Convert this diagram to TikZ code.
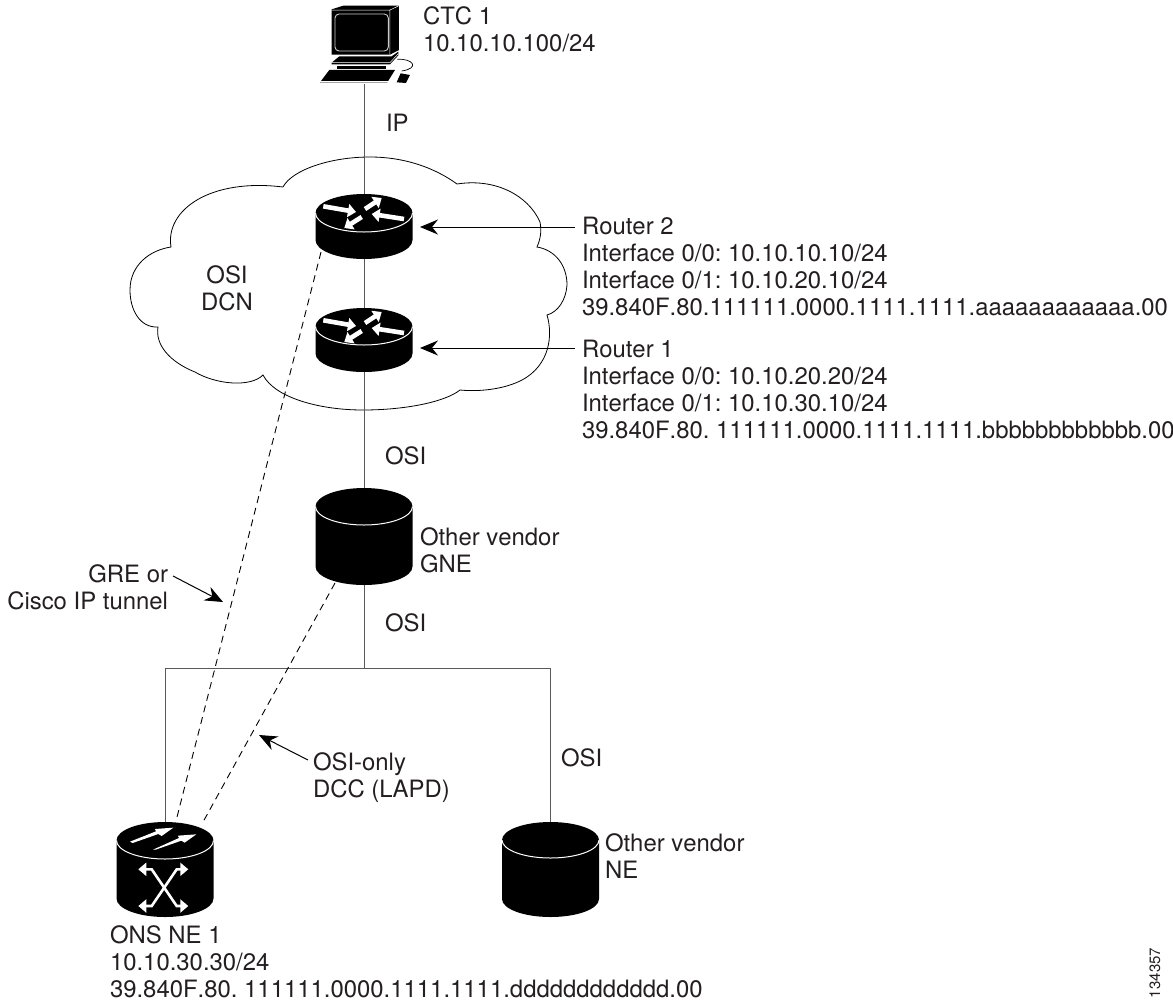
\documentclass[tikz,border=0pt]{standalone}
\usepackage{fontspec}
\setmainfont[Kerning=Off]{TeX Gyre Heros}
\frenchspacing
\usetikzlibrary{arrows.meta}
\definecolor{ink}{HTML}{231F20}
\tikzset{
  lbl/.style={inner sep=0pt,outer sep=0pt,text=ink,font=\frenchspacing\fontsize{23.9}{26.7}\selectfont},
  leftlbl/.style={lbl,anchor=base west,align=left},
  rightlbl/.style={lbl,anchor=base east,align=right},
  link/.style={draw=black!65,line width=1pt},
  tunnel/.style={draw=black,line width=.9pt,dash pattern=on 7pt off 5pt},
  pointer/.style={draw=black,line width=1pt,-{Stealth[length=18pt,width=15pt,inset=6pt]}},
  whitearrow/.style={draw=white,line width=4.6pt,-{Triangle[length=8pt,width=13pt]}},
  xarrow/.style={draw=white,line width=2.6pt,{Triangle[length=8pt,width=13pt]}-{Triangle[length=8pt,width=13pt]}},
  cloudline/.style={draw=black,line width=.8pt},
  devbox/.style={inner sep=0pt,outer sep=0pt,minimum width=97pt,rectangle}
}
% name, centre x, top, rim bottom, bottom
\newcommand\drum[5]{%
  \pgfmathsetmacro\ry{(#4-#3)/2}%
  \pgfmathsetmacro\tc{#3+\ry}%
  \pgfmathsetmacro\sd{#5-\ry}%
  \fill[black] (#2-48.5,\tc) arc[start angle=180,end angle=0,x radius=48.5pt,y radius=\ry pt]
     -- (#2+48.5,\sd) arc[start angle=0,end angle=-180,x radius=48.5pt,y radius=\ry pt] -- cycle;
  \draw[white,line width=1pt] (#2-48.5,\tc) arc[start angle=180,end angle=360,x radius=48.5pt,y radius=\ry pt];
  \pgfmathsetmacro\hh{#5-#3}%
  \node[devbox,minimum height=\hh pt] (#1) at (#2,{(#3+#5)/2}) {};
}
\newcommand\routerarrows[2]{%
  \draw[whitearrow] (#1-40.7,#2+12.3) -- (#1-8,#2+18);
  \draw[whitearrow] (#1+1,#2+15) -- (#1+17.7,#2+4);
  \draw[whitearrow] (#1+40,#2+25) -- (#1+7.7,#2+20);
  \draw[whitearrow] (#1-2.3,#2+23) -- (#1-19.7,#2+34);
}
\begin{document}
\begin{tikzpicture}[x=1pt,y=-1pt]
\path[use as bounding box] (0,0) rectangle (1173,1005);

% cloud
\draw[cloudline] (283,187)
  .. controls (292,170) and (330,157) .. (370,157)
  .. controls (405,157) and (435,168) .. (457,184)
  .. controls (495,178) and (528,195) .. (540,222)
  .. controls (542,232) and (540,240) .. (537,247)
  .. controls (555,250) and (567,265) .. (567,285)
  .. controls (566,300) and (558,312) .. (547,315)
  .. controls (553,335) and (550,365) .. (522,380)
  .. controls (505,389) and (480,392) .. (460,390)
  .. controls (445,402) and (405,410) .. (363,410)
  .. controls (320,410) and (275,398) .. (263,375)
  .. controls (250,388) and (215,384) .. (195,372)
  .. controls (170,362) and (155,345) .. (158,327)
  .. controls (140,328) and (130,310) .. (130,290)
  .. controls (130,265) and (150,250) .. (171,247)
  .. controls (165,210) and (210,178) .. (283,187);

% computer
\begin{scope}[shift={(280,0)},x=.3333pt,y=-.3333pt]
  \fill[black] (155,28) -- (190,17) -- (357,17) -- (357,150) -- (330,164) -- (155,164) -- cycle;
  \draw[white,line width=.5pt] (155,30) -- (330,30) -- (357,17) (330,30) -- (330,164);
  \draw[black!20,line width=.9pt,rounded corners=4pt] (165,42) rectangle (325,153);
  \fill[black] (155,188) -- (178,169) -- (335,169) -- (355,155) -- (355,166) -- (330,193) -- (155,193) -- cycle;
  \draw[white,line width=.5pt] (155,188) -- (330,188) -- (355,161);
  \fill[black] (172,197) rectangle (318,207);
  \fill[black] (120,247) -- (148,210) -- (345,210) -- (322,247) -- cycle;
  \draw[white,line width=.4pt] (120,243) -- (325,243);
  \fill[black] (350,247) -- (362,220) -- (390,225) -- (378,249) -- cycle;
  \draw[black,line width=.7pt] (352,178) .. controls (400,175) and (420,205) .. (365,213);
\end{scope}
\node[inner sep=0pt,outer sep=0pt,minimum width=97pt,minimum height=84pt] (ctc) at (364,42) {};

% devices
\drum{rtwo}{364}{194}{232}{259}
\routerarrows{364}{194}
\drum{rone}{364}{308}{345}{372}
\routerarrows{364}{308}
\drum{gne}{364}{488}{525}{585}
\drum{ons}{165}{822}{859}{917}
\drum{vne}{550.5}{822}{858}{917}

% ONS glyphs
\begin{scope}[shift={(70,760)},x=.3333pt,y=-.3333pt]
  \fill[white] (180,245) -- (188,249) -- (265,222) -- (275,228) -- (310,203) -- (255,207) -- (258,214) -- cycle;
  \begin{scope}[shift={(69,20)}]
    \fill[white] (180,249) -- (188,249) -- (265,222) -- (275,228) -- (310,203) -- (255,207) -- (258,214) -- cycle;
  \end{scope}
\end{scope}
\draw[xarrow] (138.3,869.3) -- (151.7,869.3) -- (176.7,906) -- (188.3,906);
\draw[xarrow] (188.3,869.3) -- (176.7,869.3) -- (151.7,906) -- (138.3,906);

% connectors
\coordinate (tee) at (gne.south |- 0,668);
\coordinate (left) at (ons.north |- 0,668);
\coordinate (right) at (vne.north |- 0,668);
\draw[link] (ctc.south) -- (rtwo.north);
\draw[link] (rtwo.south) -- (rone.north);
\draw[link] (rone.south) -- (gne.north);
\draw[link] (gne.south) -- (tee);
\draw[link] (ons.north) -- (left) -- (right) -- (vne.north);

\coordinate (t1) at (321,252);
\coordinate (t2) at (176,821);
\coordinate (d1) at (335,583);
\coordinate (d2) at (203,822);
\draw[tunnel] (t1) -- (t2);
\draw[tunnel] (d1) -- (d2);

% labels
\node[leftlbl] (lctc) at (423,51) {CTC 1\\10.10.10.100/24};
\node[leftlbl] (lip) at (386,131) {IP};
\node[lbl,anchor=base,align=center] (ldcn) at (227,310) {OSI\\DCN};
\node[leftlbl] (lr2) at (582,315) {Router 2\\Interface 0/0: 10.10.10.10/24\\Interface 0/1: 10.10.20.10/24\\39.840F.80.111111.0000.1111.1111.aaaaaaaaaaaa.00};
\node[leftlbl] (lr1) at (582,438) {Router 1\\Interface 0/0: 10.10.20.20/24\\Interface 0/1: 10.10.30.10/24\\39.840F.80. 111111.0000.1111.1111.bbbbbbbbbbbb.00};
\node[leftlbl] (losia) at (385,464) {OSI};
\node[leftlbl] (lgne) at (420,572) {Other vendor\\GNE};
\node[leftlbl] (losib) at (385,631) {OSI};
\node[rightlbl] (lgre) at (168,609) {GRE or\\Cisco IP tunnel};
\node[leftlbl] (losic) at (561,766) {OSI};
\node[leftlbl] (ldcc) at (313,797) {OSI-only\\DCC (LAPD)};
\node[leftlbl] (lne) at (605,878) {Other vendor\\NE};
\node[leftlbl] (lons) at (110,997) {ONS NE 1\\10.10.30.30/24\\39.840F.80. 111111.0000.1111.1111.dddddddddddd.00};
\node[lbl,font=\fontsize{15}{18}\selectfont,rotate=90,anchor=base west] (lnum) at (1160,998) {134357};

% pointers
\coordinate (p2) at (575,227);
\coordinate (p1) at (575,348);
\coordinate (tip2) at (420,227);
\coordinate (tip1) at (420,348);
\draw[pointer] (p2) -- (tip2);
\draw[pointer] (p1) -- (tip1);
\coordinate (g1) at (173,576);
\coordinate (g2) at (223,602);
\draw[pointer] (g1) -- (g2);
\coordinate (o1) at (308,760);
\coordinate (o2) at (259,735);
\draw[pointer] (o1) -- (o2);
\end{tikzpicture}
\end{document}
